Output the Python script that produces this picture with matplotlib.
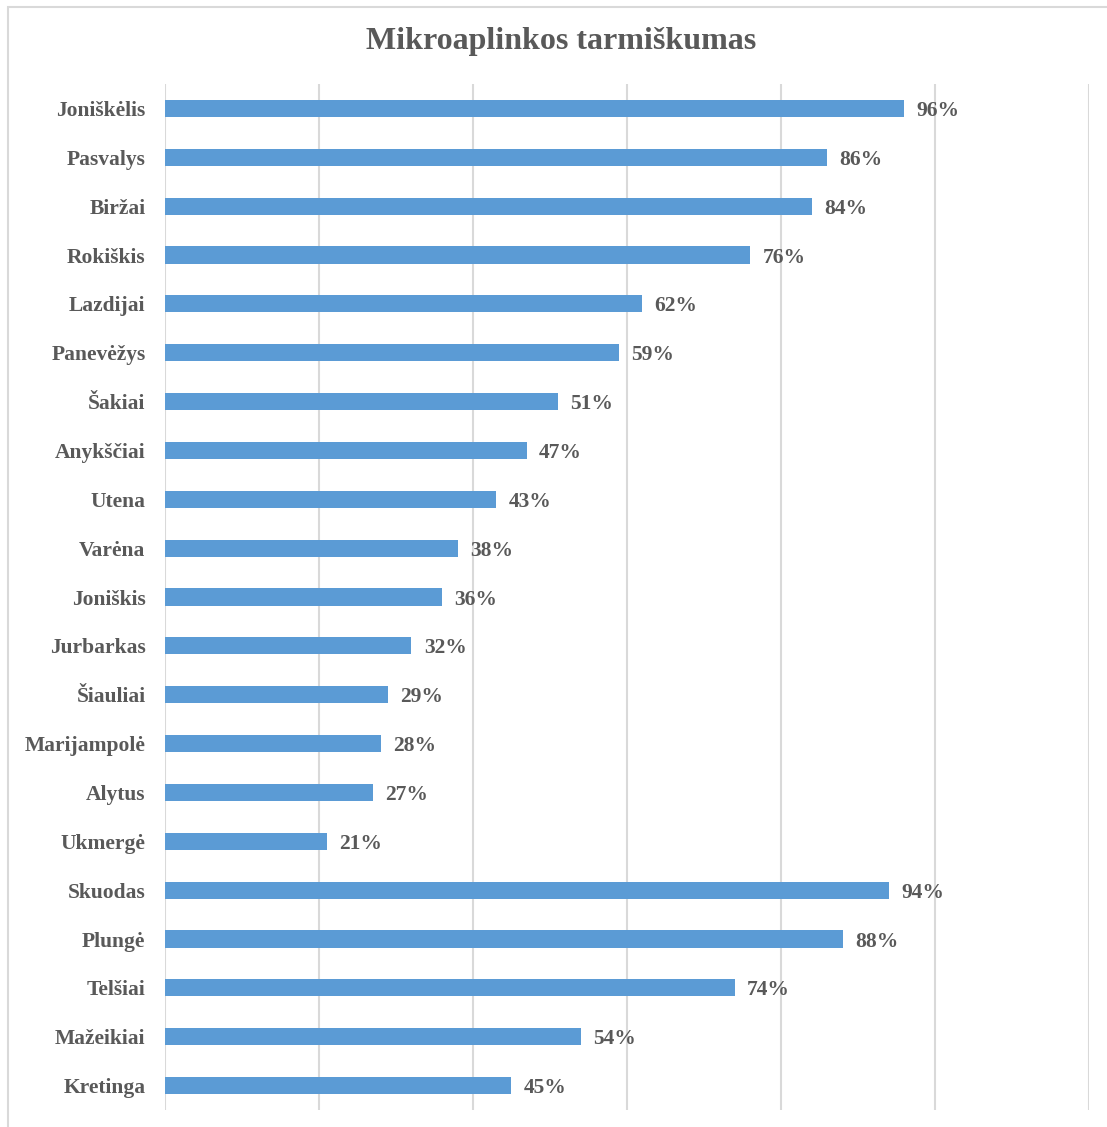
import numpy as np
import matplotlib.pyplot as plt
from matplotlib.patches import Rectangle

plt.rcParams['font.family'] = ['Liberation Serif', 'DejaVu Serif']

# duomenys (iš viršaus į apačią)
vietoves = ["Joniškėlis", "Pasvalys", "Biržai", "Rokiškis", "Lazdijai", "Panevėžys",
            "Šakiai", "Anykščiai", "Utena", "Varėna", "Joniškis", "Jurbarkas",
            "Šiauliai", "Marijampolė", "Alytus", "Ukmergė", "Skuodas", "Plungė",
            "Telšiai", "Mažeikiai", "Kretinga"]
reiksmes = [0.96, 0.86, 0.84, 0.76, 0.62, 0.59, 0.51, 0.47, 0.43, 0.38, 0.36, 0.32,
            0.29, 0.28, 0.27, 0.21, 0.94, 0.88, 0.74, 0.54, 0.45]

W, H = 1107, 1127
fig = plt.figure(figsize=(W / 100, H / 100), dpi=100)
fig.patch.set_facecolor('white')

# rėmelis
fig.patches.append(Rectangle((8 / W, -0.1), 1.2, 1 - 7 / H + 0.1, transform=fig.transFigure,
                             fill=False, edgecolor='#d9d9d9', linewidth=1.5))

ax = fig.add_axes([165 / W, 1 - 1110 / H, (1089 - 165) / W, (1110 - 84) / H])
txt = '#595959'

y = np.arange(len(vietoves))
ax.barh(y, reiksmes, height=0.35, color='#5b9bd5', zorder=3)
ax.set_ylim(len(vietoves) - 0.5, -0.5)
ax.set_xlim(0, 1.2)
ax.set_xticks(np.arange(0, 1.21, 0.2))
ax.set_xticklabels([])
ax.grid(axis='x', color='#d9d9d9', linewidth=1.5, zorder=0)
ax.tick_params(axis='x', length=0)
ax.tick_params(axis='y', length=0, pad=14)
ax.set_yticks(y)
ax.set_yticklabels(vietoves, fontsize=15.5, fontweight='bold', color=txt)
for s in ax.spines.values():
    s.set_visible(False)

for i, v in enumerate(reiksmes):
    ax.text(v + 0.016, i, f"{int(round(v * 100))}%", va='center_baseline', ha='left',
            fontsize=15.5, fontweight='bold', color=txt)

fig.text(561 / W, 1 - 41 / H, "Mikroaplinkos tarmiškumas", ha='center', va='center',
         fontsize=23, fontweight='bold', color=txt)

fig.savefig("out.png", dpi=100)
